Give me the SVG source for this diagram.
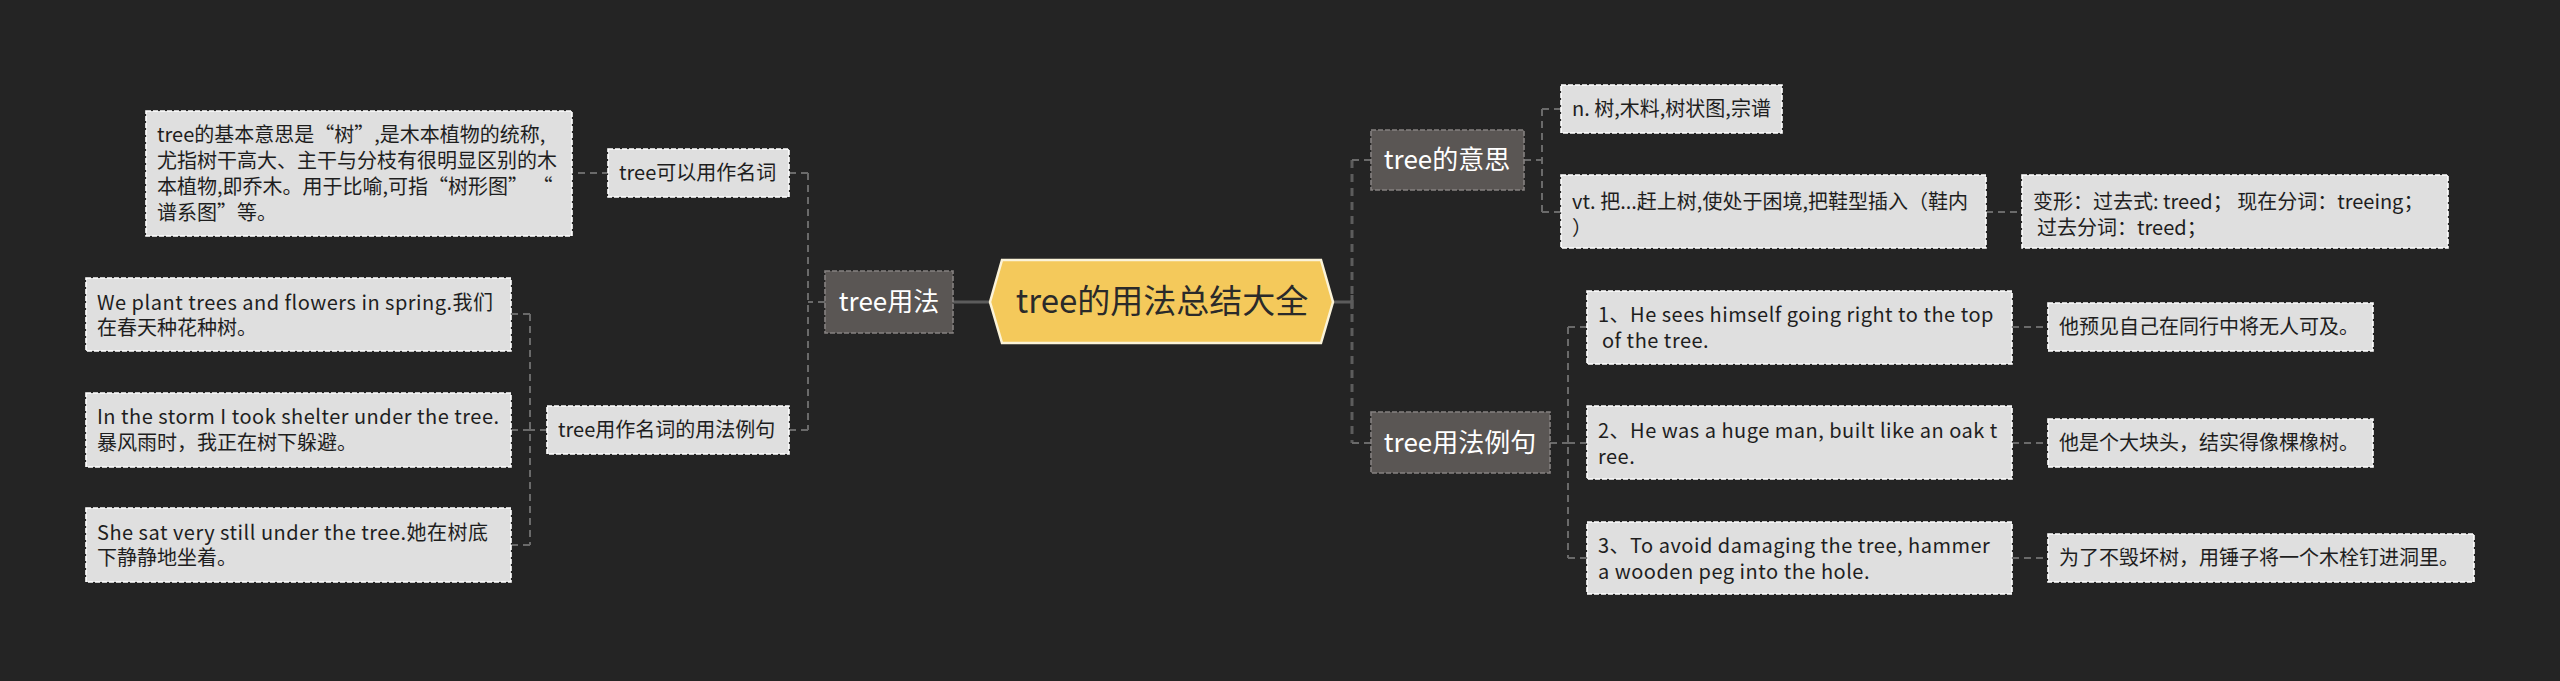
<svg xmlns="http://www.w3.org/2000/svg" width="2560" height="681" viewBox="0 0 2560 681">
<style>
.bg{fill:#242424}
.leaf rect{fill:#dfdfdf;stroke:#ffffff;stroke-width:1.6;stroke-dasharray:5 2}
.leaf text{font-family:"Noto Sans CJK SC","Noto Sans",sans-serif;font-size:20px;fill:#1e1e1e}
.lat{letter-spacing:0.5px}
.sub rect{fill:#5a5654;stroke:#858180;stroke-width:1.6;stroke-dasharray:5 2}
.sub text{font-family:"Noto Sans CJK SC","Noto Sans",sans-serif;font-size:26px;fill:#ffffff;text-anchor:middle}
.root polygon{fill:#f4c95b;stroke:#fbf3d8;stroke-width:2.5}
.root text{font-family:"Noto Sans CJK SC","Noto Sans",sans-serif;font-size:33px;fill:#2a2a2a;text-anchor:middle}
.c1{fill:none;stroke:#5c5c5c;stroke-width:3}
.c1d{fill:none;stroke:#5c5c5c;stroke-width:3;stroke-dasharray:8 6}
.c2{fill:none;stroke:#6a6a6a;stroke-width:2;stroke-dasharray:7 5}
</style>
<rect class="bg" x="0" y="0" width="2560" height="681"/>
<g id="connectors">
  <path class="c1" d="M990 302 H953"/>
  <path class="c2" d="M825 302 H808 M808 173 V430 M808 173 H789 M808 430 H789"/>
  <path class="c2" d="M609 173 H572"/>
  <path class="c2" d="M547 430 H530 M530 314 V545 M530 314 H511 M530 430 H511 M530 545 H511"/>
  <path class="c1" d="M1333 302 H1352 M1352 295 V309"/>
  <path class="c1d" d="M1352 160 V443"/>
  <path class="c2" d="M1352 160 H1371 M1352 443 H1371"/>
  <path class="c2" d="M1524 160 H1542 M1542 109 V212 M1542 109 H1561 M1542 212 H1561"/>
  <path class="c2" d="M1986 212 H2022"/>
  <path class="c2" d="M1550 443 H1568 M1568 327 V558 M1568 327 H1587 M1568 443 H1587 M1568 558 H1587"/>
  <path class="c2" d="M2012 327 H2048 M2012 443 H2048 M2012 558 H2048"/>
</g>
<g id="root" class="root">
  <polygon points="990,302 1002,260 1321,260 1333,302 1321,343 1002,343"/>
  <text x="1162" y="313">tree的用法总结大全</text>
</g>
<g id="n-usage" class="sub">
  <rect x="825" y="271" width="128" height="62"/>
  <text x="889" y="311">tree用法</text>
</g>
<g id="n-noun" class="leaf">
  <rect x="608" y="149" width="181" height="48"/>
  <text x="619" y="180">tree可以用作名词</text>
</g>
<g id="n-basic" class="leaf">
  <rect x="146" y="111" width="426" height="125"/>
  <text x="157" y="142">tree的基本意思是“树”,是木本植物的统称,</text>
  <text x="157" y="168">尤指树干高大、主干与分枝有很明显区别的木</text>
  <text x="157" y="194">本植物,即乔木。用于比喻,可指“树形图” “</text>
  <text x="157" y="220">谱系图”等。</text>
</g>
<g id="n-noun-ex" class="leaf">
  <rect x="547" y="406" width="242" height="48"/>
  <text x="558" y="437">tree用作名词的用法例句</text>
</g>
<g id="n-ex1" class="leaf">
  <rect x="86" y="278" width="425" height="73"/>
  <text class="lat" x="97" y="310">We plant trees and flowers in spring.我们</text>
  <text x="97" y="335">在春天种花种树。</text>
</g>
<g id="n-ex2" class="leaf">
  <rect x="86" y="393" width="425" height="74"/>
  <text class="lat" x="97" y="424">In the storm I took shelter under the tree.</text>
  <text x="97" y="450">暴风雨时，我正在树下躲避。</text>
</g>
<g id="n-ex3" class="leaf">
  <rect x="86" y="508" width="425" height="74"/>
  <text class="lat" x="97" y="540">She sat very still under the tree.她在树底</text>
  <text x="97" y="565">下静静地坐着。</text>
</g>
<g id="n-meaning" class="sub">
  <rect x="1371" y="130" width="153" height="60"/>
  <text x="1447" y="169">tree的意思</text>
</g>
<g id="n-n" class="leaf">
  <rect x="1561" y="85" width="221" height="48"/>
  <text x="1572" y="116">n. 树,木料,树状图,宗谱</text>
</g>
<g id="n-vt" class="leaf">
  <rect x="1561" y="175" width="425" height="73"/>
  <text x="1572" y="209">vt. 把...赶上树,使处于困境,把鞋型插入（鞋内</text>
  <text x="1572" y="235">）</text>
</g>
<g id="n-forms" class="leaf">
  <rect x="2022" y="175" width="426" height="73"/>
  <text x="2033" y="209">变形：过去式: treed；  现在分词：treeing；</text>
  <text x="2037" y="235">过去分词：treed；</text>
</g>
<g id="n-examples" class="sub">
  <rect x="1371" y="412" width="179" height="61"/>
  <text x="1460" y="452">tree用法例句</text>
</g>
<g id="n-s1" class="leaf">
  <rect x="1587" y="291" width="425" height="73"/>
  <text class="lat" x="1598" y="322">1、He sees himself going right to the top</text>
  <text class="lat" x="1602" y="348">of the tree.</text>
</g>
<g id="n-s2" class="leaf">
  <rect x="1587" y="406" width="425" height="73"/>
  <text class="lat" x="1598" y="438">2、He was a huge man, built like an oak t</text>
  <text class="lat" x="1598" y="464">ree.</text>
</g>
<g id="n-s3" class="leaf">
  <rect x="1587" y="522" width="425" height="72"/>
  <text class="lat" x="1598" y="553">3、To avoid damaging the tree, hammer</text>
  <text class="lat" x="1598" y="579">a wooden peg into the hole.</text>
</g>
<g id="n-t1" class="leaf">
  <rect x="2048" y="303" width="325" height="48"/>
  <text x="2059" y="334">他预见自己在同行中将无人可及。</text>
</g>
<g id="n-t2" class="leaf">
  <rect x="2048" y="419" width="325" height="48"/>
  <text x="2059" y="450">他是个大块头，结实得像棵橡树。</text>
</g>
<g id="n-t3" class="leaf">
  <rect x="2048" y="534" width="426" height="48"/>
  <text x="2059" y="565">为了不毁坏树，用锤子将一个木栓钉进洞里。</text>
</g>
</svg>
